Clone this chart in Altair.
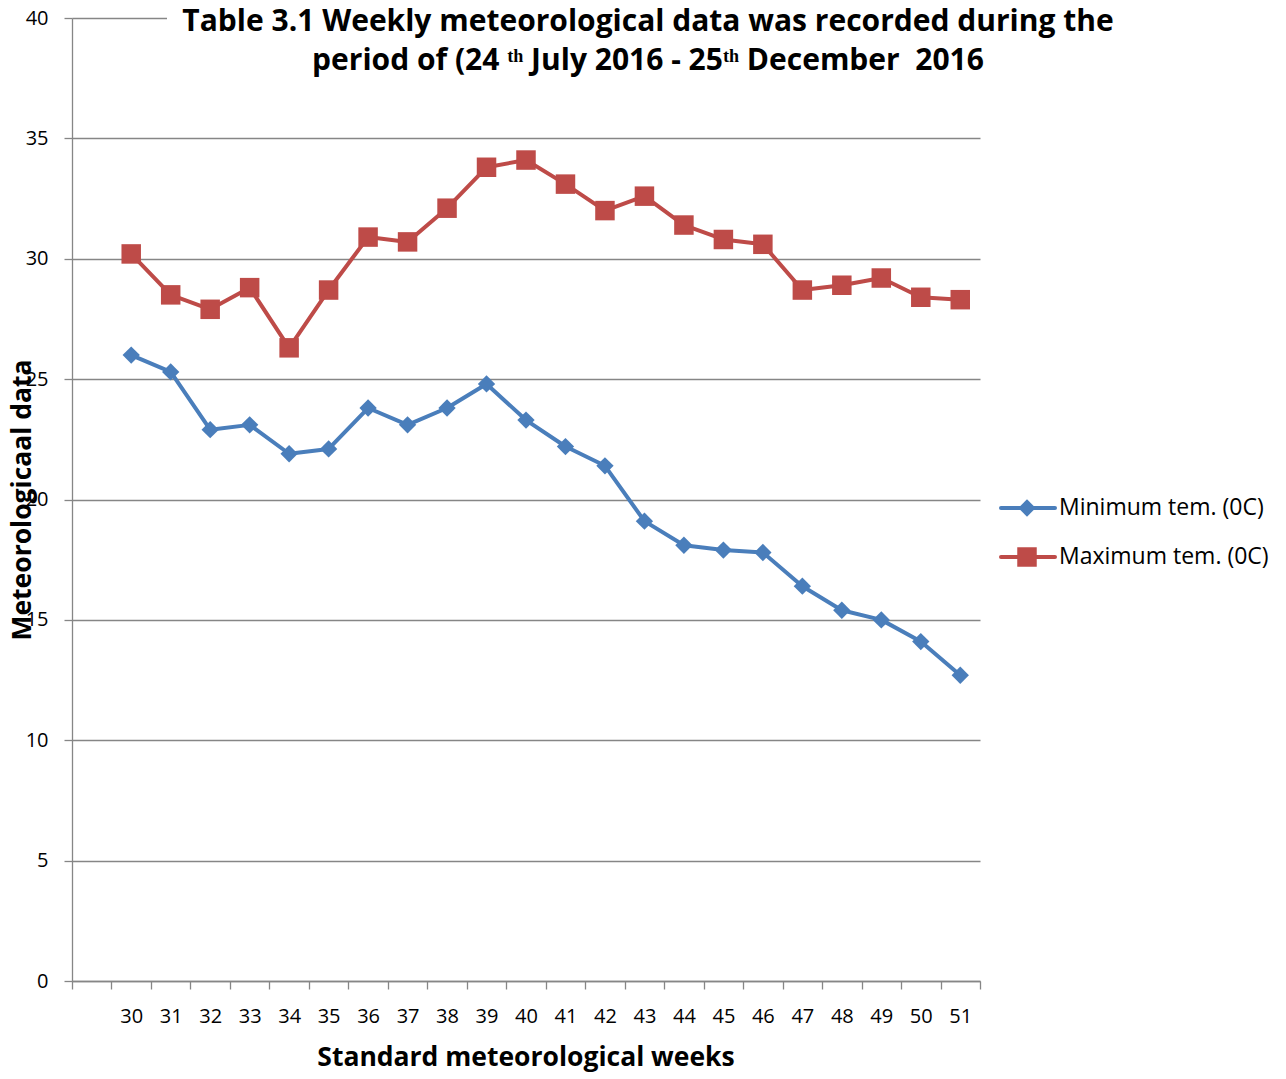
import altair as alt
import pandas as pd

weeks = list(range(30, 52))
min_temp = [26.0, 25.3, 22.9, 23.1, 21.9, 22.1, 23.8, 23.1, 23.8, 24.8, 23.3,
            22.2, 21.4, 19.1, 18.1, 17.9, 17.8, 16.4, 15.4, 15.0, 14.1, 12.7]
max_temp = [30.2, 28.5, 27.9, 28.8, 26.3, 28.7, 30.9, 30.7, 32.1, 33.8, 34.1,
            33.1, 32.0, 32.6, 31.4, 30.8, 30.6, 28.7, 28.9, 29.2, 28.4, 28.3]
series_names = ["Minimum tem. (0C)", "Maximum tem. (0C)"]
colors = ["#4A7EBB", "#BE4B48"]
shapes = ["diamond", "square"]
marker_sizes = [300, 380]
y_ticks = [0, 5, 10, 15, 20, 25, 30, 35, 40]
x_edges = [28.5 + i for i in range(24)]
title_lines = ["Table 3.1 Weekly meteorological data was recorded during the",
               "period of (24 \u1d57\u02b0 July 2016 - 25\u1d57\u02b0 December\u00a0 2016"]
x_title = "Standard meteorological weeks"
y_title = "Meteorologicaal data"

FONT = "Open Sans"
GRAY = "#868686"
W, H = 908, 963
slot = W / 23.0

rows = []
for name, vals in zip(series_names, [min_temp, max_temp]):
    for w, v in zip(weeks, vals):
        rows.append({"week": w, "value": v, "series": name})
df = pd.DataFrame(rows)

xscale = alt.Scale(domain=[28.5, 51.5], nice=False, zero=False)
yscale = alt.Scale(domain=[0, 40], nice=False)

xaxis = alt.Axis(values=x_edges, title=None, grid=False,
                 labelExpr="datum.value > 29 && datum.value < 51 ? format(datum.value + 0.5, 'd') : ''",
                 labelOffset=slot / 2, labelFlush=False, labelOverlap=False, labelBound=False,
                 labelSeparation=0,
                 tickSize=8, tickColor=GRAY, domainColor=GRAY, tickWidth=1.3, domainWidth=1.3,
                 labelFont=FONT, labelFontSize=20, labelColor="#000000", labelPadding=17)
yaxis = alt.Axis(values=y_ticks, title=None, grid=True, gridColor=GRAY, gridWidth=1.3,
                 labelOverlap=False, labelFlush=False,
                 tickSize=8, tickColor=GRAY, domainColor=GRAY, tickWidth=1.3, domainWidth=1.3,
                 labelFont=FONT, labelFontSize=20, labelColor="#000000", labelPadding=16)

X = alt.X("week:Q", scale=xscale, axis=xaxis)
Y = alt.Y("value:Q", scale=yscale, axis=yaxis)
color = alt.Color("series:N", scale=alt.Scale(domain=series_names, range=colors), legend=None)
shape = alt.Shape("series:N", scale=alt.Scale(domain=series_names, range=shapes), legend=None)
size = alt.Size("series:N", scale=alt.Scale(domain=series_names, range=marker_sizes), legend=None)

base = alt.Chart(df)
lines = base.mark_line(strokeWidth=4, strokeJoin="round").encode(
    x=X, y=Y, color=color, detail="series:N")
points = base.mark_point(filled=True, opacity=1).encode(
    x=X, y=Y, color=color, shape=shape, size=size)

layers = [lines, points]

# white box behind the title (covers the top gridline like the original)
layers.append(alt.Chart(pd.DataFrame({"a": [0]})).mark_rect(color="white").encode(
    x=alt.value(95), x2=alt.value(1058), y=alt.value(-12), y2=alt.value(62)))

# title
for i, t in enumerate(title_lines):
    layers.append(alt.Chart(pd.DataFrame({"t": [t]})).mark_text(
        font=FONT, fontSize=30, fontWeight="bold", color="#000000",
        align="center", baseline="middle").encode(
        text="t:N", x=alt.value(576), y=alt.value(4 + i * 39)))

# axis titles
layers.append(alt.Chart(pd.DataFrame({"t": [x_title]})).mark_text(
    font=FONT, fontSize=26.5, fontWeight="bold", color="#000000",
    align="center", baseline="middle").encode(
    text="t:N", x=alt.value(W / 2), y=alt.value(1040)))
layers.append(alt.Chart(pd.DataFrame({"t": [y_title]})).mark_text(
    font=FONT, fontSize=26.5, fontWeight="bold", color="#000000",
    align="center", baseline="middle", angle=270).encode(
    text="t:N", x=alt.value(-49), y=alt.value(482)))

# legend
for i, (name, c, s, ms) in enumerate(zip(series_names, colors, shapes, marker_sizes)):
    yy = 490 + i * 49
    layers.append(alt.Chart(pd.DataFrame({"a": [0]})).mark_rule(
        color=c, strokeWidth=4, strokeCap="round").encode(
        x=alt.value(929), x2=alt.value(983), y=alt.value(yy)))
    layers.append(alt.Chart(pd.DataFrame({"a": [0]})).mark_point(
        filled=True, opacity=1, color=c, shape=s, size=ms).encode(
        x=alt.value(955), y=alt.value(yy)))
    layers.append(alt.Chart(pd.DataFrame({"t": [name]})).mark_text(
        font=FONT, fontSize=23, color="#000000", align="left", baseline="middle").encode(
        text="t:N", x=alt.value(987), y=alt.value(yy)))

chart = alt.layer(*layers).properties(
    width=W, height=H,
    background="white",
    autosize=alt.AutoSizeParams(type="none"),
    padding={"left": 64, "top": 10, "right": 290, "bottom": 92},
).configure_view(stroke=None)

chart.save("out.html", embed_options={"renderer": "svg", "actions": False})
